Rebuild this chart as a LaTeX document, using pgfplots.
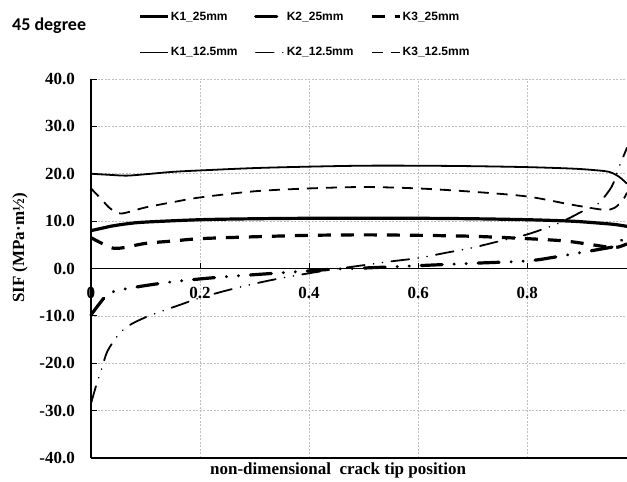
\documentclass[border=0pt]{standalone}
\usepackage{fontspec}
\setmainfont{Liberation Serif}
\newfontfamily\legfont{Liberation Sans}
\newfontfamily\titlefont{Carlito}
\usepackage{pgfplots}
\pgfplotsset{compat=1.18}

% line styles for the six SIF curves
\pgfplotsset{
  ka/.style={black, line width=3.2pt},
  kb/.style={black, line width=3.2pt, line cap=round,
    dash pattern=on 21pt off 12pt on 0.01pt off 12pt on 0.01pt off 12pt},
  kc/.style={black, line width=3.2pt, dash pattern=on 13pt off 10pt},
  kd/.style={black, line width=1.8pt},
  ke/.style={black, line width=1.8pt, line cap=round,
    dash pattern=on 18pt off 9pt on 0.01pt off 9pt on 0.01pt off 9pt},
  kf/.style={black, line width=1.8pt, dash pattern=on 11pt off 8pt},
}

\begin{document}
\begin{tikzpicture}
\path[use as bounding box] (0,0) rectangle (627pt,482pt);
\node[anchor=west, inner sep=0pt, font=\titlefont\fontsize{18}{20}\selectfont\bfseries]
  at (12pt,456pt) {45 degree};
\begin{axis}[
  at={(91pt,24pt)}, anchor=south west,
  scale only axis, width=536pt, height=379pt,
  xmin=0, xmax=0.983, ymin=-40, ymax=40,
  axis x line=middle, axis y line=left,
  axis line style={-, black, line width=1.5pt},
  hide obscured x ticks=false,
  clip=false,
  xtick={0,0.2,0.4,0.6,0.8},
  xticklabels={0,0.2,0.4,0.6,0.8},
  ytick={-40,-30,-20,-10,0,10,20,30,40},
  yticklabels={-40.0,-30.0,-20.0,-10.0,0.0,10.0,20.0,30.0,40.0},
  tick align=inside, major tick length=6pt,
  tick style={black, line width=1pt},
  xticklabel style={anchor=north, inner sep=0pt, yshift=-18pt,
    font=\fontsize{17}{19}\selectfont\bfseries},
  yticklabel style={anchor=east, inner sep=0pt, xshift=-16pt,
    font=\fontsize{17}{19}\selectfont\bfseries},
  grid=major,
  grid style={black!25, line width=0.7pt, dash pattern=on 2pt off 1.5pt},
  xlabel={non-dimensional\ \ crack tip position},
  xlabel style={at={(axis description cs:0.461,-0.034)}, anchor=center,
    font=\fontsize{17}{19}\selectfont\bfseries},
  ylabel={SIF (MPa·m½)},
  ylabel style={at={(axis description cs:-0.1325,0.554)}, anchor=center, rotate=0,
    font=\fontsize{17}{19}\selectfont\bfseries},
  legend columns=3,
  legend cell align=left,
  legend image code/.code={\draw[#1] (0pt,0pt) -- (28pt,0pt);},
  legend style={draw=none, fill=none, inner sep=0pt,
    at={(axis description cs:0.0877,1.182)}, anchor=north west,
    font=\legfont\fontsize{12}{14}\selectfont\bfseries,
    nodes={inner sep=1.5pt},
    row sep=23pt,
    /tikz/every even column/.append style={column sep=15pt}},
]

\addplot[ka, smooth] coordinates {
  (0,8.0)(0.02,8.5)(0.04,9.0)(0.07,9.5)(0.1,9.8)(0.2,10.3)(0.3,10.5)(0.4,10.6)
  (0.5,10.6)(0.6,10.6)(0.7,10.5)(0.8,10.3)(0.88,10.0)(0.93,9.6)(0.96,9.3)(0.983,8.9)
};
\addlegendentry{K1\_25mm}

\addplot[kb, smooth] coordinates {
  (0,-9.8)(0.015,-7.5)(0.03,-5.5)(0.05,-4.6)(0.1,-3.6)(0.15,-2.8)(0.2,-2.2)
  (0.25,-1.7)(0.3,-1.3)(0.35,-0.9)(0.4,-0.5)(0.45,-0.1)(0.5,0.1)(0.6,0.6)
  (0.7,1.1)(0.8,1.6)(0.85,2.4)(0.9,3.4)(0.94,4.2)(0.96,4.7)(0.975,6.2)(0.983,7.5)
};
\addlegendentry{K2\_25mm}

\addplot[kc, smooth] coordinates {
  (0,6.5)(0.02,5.3)(0.04,4.3)(0.06,4.4)(0.1,5.3)(0.15,5.8)(0.2,6.3)(0.3,6.7)
  (0.4,7.0)(0.5,7.1)(0.6,7.0)(0.7,6.8)(0.8,6.3)(0.87,5.8)(0.92,5.0)(0.96,4.4)(0.983,5.2)
};
\addlegendentry{K3\_25mm}

\addplot[kd, smooth] coordinates {
  (0,20.0)(0.03,19.8)(0.065,19.6)(0.1,19.9)(0.15,20.4)(0.2,20.7)(0.3,21.2)(0.4,21.5)
  (0.5,21.7)(0.6,21.7)(0.7,21.6)(0.8,21.4)(0.88,21.1)(0.92,20.8)(0.95,20.4)
  (0.968,19.4)(0.983,17.9)
};
\addlegendentry{K1\_12.5mm}

\addplot[ke, smooth] coordinates {
  (0,-28.5)(0.01,-24.5)(0.02,-21)(0.03,-17.5)(0.05,-14)(0.07,-12)(0.1,-10.3)
  (0.13,-9)(0.16,-7.8)(0.2,-6.2)(0.25,-4.6)(0.3,-3.2)(0.35,-2)(0.4,-1.0)
  (0.45,-0.1)(0.5,0.7)(0.55,1.5)(0.6,2.2)(0.65,3.3)(0.7,4.4)(0.75,5.8)(0.8,7.2)
  (0.85,9.2)(0.88,10.8)(0.9,12.0)(0.93,13.7)(0.955,17.3)(0.968,21.3)(0.983,25.5)
};
\addlegendentry{K2\_12.5mm}

\addplot[kf, smooth] coordinates {
  (0,16.9)(0.02,14.5)(0.035,12.7)(0.055,11.6)(0.1,12.9)(0.15,14.0)(0.2,15.0)
  (0.3,16.3)(0.4,16.9)(0.5,17.2)(0.6,16.9)(0.7,16.2)(0.8,15.2)(0.88,13.5)
  (0.94,12.4)(0.96,12.8)(0.975,14.4)(0.983,16.0)
};
\addlegendentry{K3\_12.5mm}

\draw[black, line width=1.5pt] (axis cs:0,-40) -- (axis cs:0.983,-40);
\end{axis}
\end{tikzpicture}
\end{document}
